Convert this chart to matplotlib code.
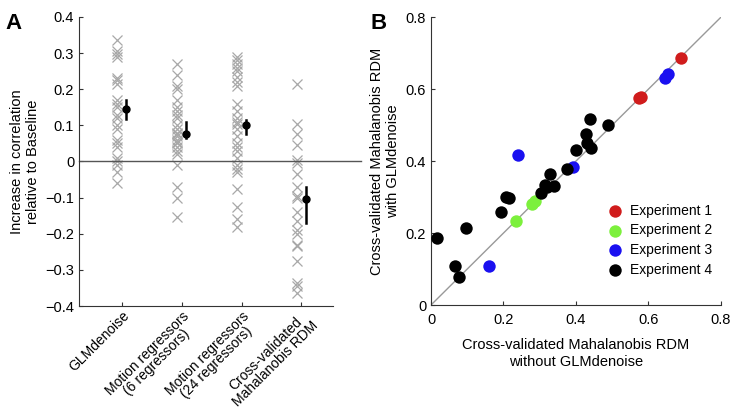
import matplotlib.pyplot as plt
import numpy as np

plt.rcParams['font.family'] = ['Liberation Sans', 'DejaVu Sans']

# panel A: per-subject increase in correlation relative to baseline
categories = ["GLMdenoise", "Motion regressors\n(6 regressors)",
              "Motion regressors\n(24 regressors)", "Cross-validated\nMahalanobis RDM"]
glm_vals = [0.337, 0.305, 0.298, 0.29, 0.23, 0.225, 0.215, 0.17, 0.16, 0.15, 0.13,
            0.12, 0.10, 0.09, 0.06, 0.05, 0.04, 0.01, 0.0, -0.01, -0.03, -0.06]
mot6_vals = [0.27, 0.24, 0.21, 0.20, 0.17, 0.15, 0.14, 0.13, 0.12, 0.10, 0.09, 0.08,
             0.075, 0.07, 0.06, 0.055, 0.05, 0.04, 0.03, 0.02, -0.01, -0.07, -0.10, -0.155]
mot24_vals = [0.29, 0.28, 0.27, 0.26, 0.25, 0.235, 0.22, 0.21, 0.16, 0.14, 0.12, 0.11,
              0.105, 0.09, 0.07, 0.05, 0.04, 0.03, 0.01, -0.01, -0.02, -0.03, -0.075,
              -0.125, -0.16, -0.18]
cv_vals = [0.215, 0.105, 0.075, 0.045, 0.005, -0.005, -0.035, -0.07, -0.095, -0.10,
           -0.14, -0.165, -0.19, -0.20, -0.23, -0.235, -0.275, -0.335, -0.345, -0.365]
means = [0.145, 0.075, 0.102, -0.103]
err_lo = [0.118, 0.065, 0.075, -0.17]
err_hi = [0.17, 0.108, 0.115, -0.07]

# panel B: RDM reliability without / with GLMdenoise
exp_labels = ["Experiment 1", "Experiment 2", "Experiment 3", "Experiment 4"]
exp_colors = ["#d01c1c", "#7cf03c", "#1a10f0", "#000000"]
exp1_x = [0.690, 0.579, 0.575]
exp1_y = [0.687, 0.578, 0.574]
exp2_x = [0.235, 0.280, 0.287]
exp2_y = [0.233, 0.282, 0.288]
exp3_x = [0.654, 0.645, 0.241, 0.393, 0.161]
exp3_y = [0.643, 0.632, 0.418, 0.384, 0.109]
exp4_x = [0.017, 0.066, 0.078, 0.096, 0.193, 0.207, 0.215, 0.303, 0.315, 0.329,
          0.338, 0.319, 0.375, 0.400, 0.428, 0.430, 0.439, 0.441, 0.487]
exp4_y = [0.185, 0.108, 0.077, 0.215, 0.259, 0.301, 0.296, 0.312, 0.333, 0.365,
          0.330, 0.328, 0.377, 0.430, 0.474, 0.449, 0.518, 0.437, 0.500]

fig = plt.figure(figsize=(7.33, 4.13), dpi=100)

# ---- panel A
ax = fig.add_axes([0.1078, 0.259, 0.3465, 0.700])
groups = [glm_vals, mot6_vals, mot24_vals, cv_vals]
pos = np.arange(1, 5)
for p, vals in zip(pos, groups):
    ax.plot(np.full(len(vals), p - 0.08), vals, 'x', color='#a8a8a8',
            markersize=7.5, markeredgewidth=0.9)
for p, m, lo, hi in zip(pos, means, err_lo, err_hi):
    ax.plot([p + 0.07, p + 0.07], [lo, hi], color='black', lw=1.8)
    ax.plot(p + 0.07, m, 'o', color='black', markersize=5)
ax.plot([0.28, 5.0], [0, 0], color='#555555', lw=1.0, clip_on=False)
ax.set_xlim(0.28, 4.53)
ax.set_ylim(-0.4, 0.4)
ax.set_yticks(np.arange(-0.4, 0.41, 0.1))
ax.set_yticklabels(["\u22120.4", "\u22120.3", "\u22120.2", "\u22120.1", "0",
                    "0.1", "0.2", "0.3", "0.4"])
ax.set_xticks(pos)
ax.set_xticklabels(categories, rotation=45, ha='right', rotation_mode='anchor',
                   multialignment='center', fontsize=10, linespacing=0.95)
ax.set_ylabel("Increase in correlation\nrelative to Baseline", fontsize=10.5)
for s in ['top', 'right']:
    ax.spines[s].set_visible(False)
ax.spines['left'].set_color('#333333')
ax.spines['bottom'].set_color('#333333')
ax.tick_params(direction='in', length=3, labelsize=10.5, color='#333333')
ax.tick_params(axis='x', labelsize=10, pad=2)
fig.text(0.008, 0.93, "A", fontsize=16, fontweight='bold')

# ---- panel B
bx = fig.add_axes([0.588, 0.2615, 0.3956, 0.697])
bx.plot([0, 0.8], [0, 0.8], color='#999999', lw=1.0)
xs = [exp1_x, exp2_x, exp3_x, exp4_x]
ys = [exp1_y, exp2_y, exp3_y, exp4_y]
for xv, yv, c, lab in zip(xs, ys, exp_colors, exp_labels):
    bx.scatter(xv, yv, s=80, color=c, label=lab, zorder=3, linewidths=0)
bx.set_xlim(0, 0.8)
bx.set_ylim(0, 0.8)
bx.set_xticks([0, 0.2, 0.4, 0.6, 0.8])
bx.set_xticklabels(["0", "0.2", "0.4", "0.6", "0.8"])
bx.set_yticks([0, 0.2, 0.4, 0.6, 0.8])
bx.set_yticklabels(["0", "0.2", "0.4", "0.6", "0.8"])
bx.set_xlabel("Cross-validated Mahalanobis RDM\nwithout GLMdenoise", fontsize=10.5,
              labelpad=8)
bx.set_ylabel("Cross-validated Mahalanobis RDM\nwith GLMdenoise", fontsize=10.5)
for s in ['top', 'right']:
    bx.spines[s].set_visible(False)
bx.spines['left'].set_color('#333333')
bx.spines['bottom'].set_color('#333333')
bx.tick_params(direction='in', length=3, labelsize=10.5, color='#333333')
bx.tick_params(axis='x', pad=6)
bx.legend(loc='lower right', bbox_to_anchor=(1.0, 0.07), frameon=False,
          fontsize=10, handletextpad=0.1, labelspacing=0.4, borderaxespad=0.2)
fig.text(0.505, 0.93, "B", fontsize=16, fontweight='bold')

fig.savefig("out.png", dpi=100)
